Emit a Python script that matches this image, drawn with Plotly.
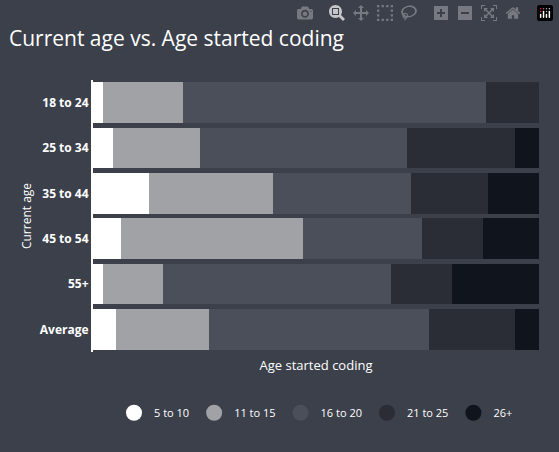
import plotly.graph_objects as go

ages = ["18 to 24", "25 to 34", "35 to 44", "45 to 54", "55+", "Average"]
groups = ["5 to 10", "11 to 15", "16 to 20", "21 to 25", "26+"]
colors = ["#ffffff", "#a1a2a6", "#4b4f59", "#2a2d35", "#10141c"]

v_5_10 = [2.2, 4.5, 12.6, 6.3, 2.2, 5.2]
v_11_15 = [18.0, 19.5, 27.8, 40.8, 13.5, 20.9]
v_16_20 = [68.0, 46.4, 30.9, 26.7, 51.1, 49.3]
v_21_25 = [11.8, 24.2, 17.3, 13.7, 13.7, 19.2]
v_26 = [0.0, 5.4, 11.4, 12.5, 19.5, 5.4]
series = [v_5_10, v_11_15, v_16_20, v_21_25, v_26]

fig = go.Figure()
for name, vals, c in zip(groups, series, colors):
    fig.add_trace(go.Bar(y=ages, x=vals, orientation="h", name=name,
                         marker=dict(color=c, line=dict(width=0)), showlegend=False))
    fig.add_trace(go.Scatter(x=[None], y=[None], mode="markers", name=name,
                             marker=dict(color=c, size=16, symbol="circle")))

fig.update_layout(
    barmode="stack", bargap=0.1,
    width=559, height=452,
    paper_bgcolor="#3b404b", plot_bgcolor="#3b404b",
    font=dict(family="Open Sans", color="#ffffff", size=12),
    title=dict(text="Current age vs. Age started coding", x=0.016, y=0.93,
               font=dict(size=21, color="#ffffff")),
    margin=dict(l=93, r=20, t=80, b=100),
    legend=dict(orientation="h", traceorder="normal", x=0.5, xanchor="center",
                y=-0.17, yanchor="top", font=dict(size=11)),
)
fig.update_xaxes(range=[0, 100], showticklabels=False, showgrid=False, zeroline=False,
                 title=dict(text="Age started coding", font=dict(size=13), standoff=8))
fig.update_yaxes(autorange="reversed", showgrid=False, showline=True, linecolor="#ffffff",
                 linewidth=2, ticks="", tickfont=dict(size=12, weight="bold"),
                 title=dict(text="Current age", font=dict(size=12), standoff=6))

fig.write_html("out.html",
               post_script="document.body.style.margin='0';window.dispatchEvent(new Event('resize'));")
